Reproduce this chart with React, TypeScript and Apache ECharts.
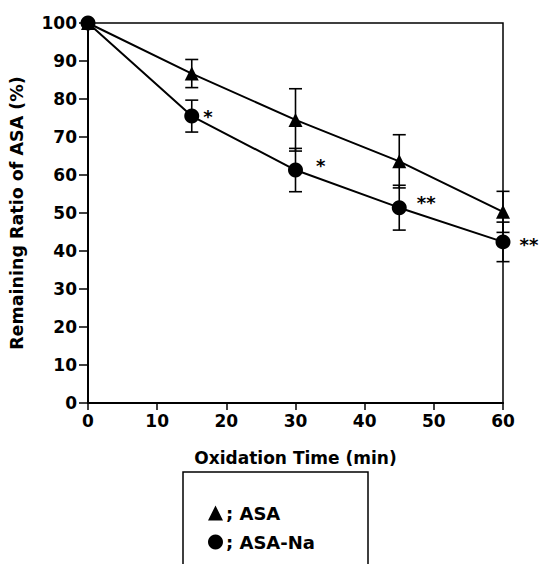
import React, { useEffect, useRef } from "react";
import * as echarts from "echarts";

const times = [0, 15, 30, 45, 60];
const asaValues = [100, 86.7, 74.5, 63.6, 50.3];
const asaSd = [0, 3.7, 8.2, 7.0, 5.4];
const naValues = [100, 75.5, 61.3, 51.4, 42.4];
const naSd = [0, 4.2, 5.7, 5.9, 5.2];
const naMarks = ["", "*", "*", "**", "**"];
const markOffsets: [number, number][] = [[0, 0], [-1, 0], [8, -5], [5, -5], [4, 3]];

const FONT = "DejaVu Sans";

function errorSeries(values: number[], sd: number[]) {
  return {
    type: "custom",
    data: times.map((t, i) => [t, values[i], sd[i]]),
    z: 1,
    silent: true,
    renderItem: (params: any, api: any) => {
      const x = api.value(0);
      const y = api.value(1);
      const s = api.value(2);
      if (!s) return null;
      const top = api.coord([x, y + s]);
      const bot = api.coord([x, y - s]);
      const w = 6.5;
      const style = { stroke: "#000", lineWidth: 1.6 };
      return {
        type: "group",
        children: [
          { type: "line", shape: { x1: top[0], y1: top[1], x2: bot[0], y2: bot[1] }, style },
          { type: "line", shape: { x1: top[0] - w, y1: top[1], x2: top[0] + w, y2: top[1] }, style },
          { type: "line", shape: { x1: bot[0] - w, y1: bot[1], x2: bot[0] + w, y2: bot[1] }, style },
        ],
      };
    },
  };
}

export default function App() {
  const ref = useRef<HTMLDivElement>(null);
  useEffect(() => {
    if (!ref.current) return;
    const chart = echarts.init(ref.current, null, { renderer: "svg" });
    const textBase = { color: "#000", fontFamily: FONT, fontWeight: "bold" as const };
    chart.setOption({
      animation: false,
      backgroundColor: "#fff",
      grid: {
        left: 88,
        right: 38,
        top: 23,
        bottom: 161,
        show: true,
        borderColor: "#000",
        borderWidth: 1.5,
        backgroundColor: "transparent",
      },
      xAxis: {
        type: "value",
        min: 0,
        max: 60,
        interval: 10,
        name: "Oxidation Time (min)",
        nameLocation: "middle",
        nameGap: 46,
        nameTextStyle: { ...textBase, fontSize: 17 },
        axisLine: { lineStyle: { color: "#000", width: 2 } },
        axisTick: { inside: false, length: 7, lineStyle: { color: "#000", width: 1.5 } },
        axisLabel: { ...textBase, fontSize: 17, margin: 9 },
        splitLine: { show: false },
      },
      yAxis: {
        type: "value",
        min: 0,
        max: 100,
        interval: 10,
        name: "Remaining Ratio of ASA (%)",
        nameLocation: "middle",
        nameGap: 62,
        nameTextStyle: { ...textBase, fontSize: 17.5 },
        axisLine: { lineStyle: { color: "#000", width: 2 } },
        axisTick: { inside: false, length: 9, lineStyle: { color: "#000", width: 1.5 } },
        axisLabel: { ...textBase, fontSize: 17, margin: 11 },
        splitLine: { show: false },
      },
      legend: {
        left: 203,
        top: 499,
        orient: "vertical",
        itemGap: 11,
        itemWidth: 15,
        itemHeight: 15,
        formatter: "; {name}",
        textStyle: { ...textBase, fontSize: 18, padding: [0, 0, 0, -2] },
        data: [
          { name: "ASA", icon: "triangle" },
          { name: "ASA-Na", icon: "circle" },
        ],
      },
      graphic: [
        {
          type: "rect",
          shape: { x: 183, y: 472, width: 185, height: 120 },
          style: { fill: "none", stroke: "#000", lineWidth: 1.5 },
        },
      ],
      series: [
        errorSeries(asaValues, asaSd),
        errorSeries(naValues, naSd),
        {
          name: "ASA",
          type: "line",
          data: times.map((t, i) => [t, asaValues[i]]),
          symbol: "triangle",
          symbolSize: 14,
          itemStyle: { color: "#000" },
          lineStyle: { color: "#000", width: 2 },
          clip: false,
          z: 3,
        },
        {
          name: "ASA-Na",
          type: "line",
          clip: false,
          data: times.map((t, i) => ({
            value: [t, naValues[i]],
            label: {
              show: !!naMarks[i],
              formatter: naMarks[i],
              position: "right",
              distance: 5,
              offset: markOffsets[i],
              ...textBase,
              fontSize: 18,
              overflow: "none",
            },
          })),
          symbol: "circle",
          symbolSize: 15,
          itemStyle: { color: "#000" },
          lineStyle: { color: "#000", width: 2 },
          z: 4,
        },
      ],
    });
    return () => chart.dispose();
  }, []);
  return (
    <div
      ref={ref}
      style={{ position: "fixed", left: 0, top: 0, width: 541, height: 564 }}
    />
  );
}
